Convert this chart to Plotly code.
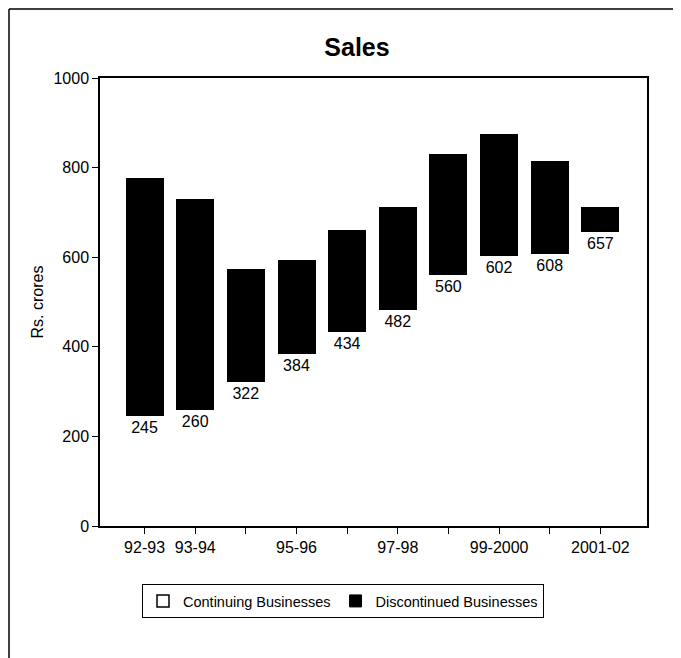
import plotly.graph_objects as go

categories = ["92-93", "93-94", "94-95", "95-96", "96-97", "97-98", "98-99", "99-2000", "2000-01", "2001-02"]
continuing = [245, 260, 322, 384, 434, 482, 560, 602, 608, 657]
discontinued = [532, 469, 252, 210, 227, 231, 270, 272, 207, 56]
tick_labels = ["92-93", "93-94", "", "95-96", "", "97-98", "", "99-2000", "", "2001-02"]
y_ticks = [0, 200, 400, 600, 800, 1000]

FONT = "Liberation Sans Narrow, Arial Narrow, Liberation Sans, Arial, sans-serif"

W, H = 681, 658
OFF = 8  # page body margin
# plot area in page pixels
L, R, T, B = 100 - OFF, 647 - OFF, 78 - OFF, 526 - OFF

fig = go.Figure()
fig.add_trace(go.Bar(
    x=categories, y=continuing, name="Continuing Businesses",
    marker=dict(color="white", line=dict(width=0)),
    text=[str(v) for v in continuing], textposition="inside",
    insidetextanchor="end", textfont=dict(color="black", size=16, family=FONT),
    showlegend=False, hoverinfo="x+y",
))
fig.add_trace(go.Bar(
    x=categories, y=discontinued, name="Discontinued Businesses",
    marker=dict(color="black", line=dict(width=0)),
    showlegend=False,
))
# legend entries
fig.add_trace(go.Bar(x=[None], y=[None], name="Continuing Businesses",
                     marker=dict(color="white", line=dict(color="black", width=1.5))))
fig.add_trace(go.Bar(x=[None], y=[None], name="Discontinued Businesses",
                     marker=dict(color="black", line=dict(color="black", width=1))))

pw, ph = R - L, B - T
def px(x):
    return (x - OFF - L) / pw
def py(y):
    return (B - (y - OFF)) / ph

frame_line = dict(color="black", width=1.5)
fig.update_layout(
    width=W, height=H,
    margin=dict(l=L, r=W - R, t=T, b=H - B, pad=0, autoexpand=False),
    paper_bgcolor="white", plot_bgcolor="white",
    barmode="stack", bargap=0.25,
    font=dict(family=FONT, color="black", size=16),
    title=dict(text="<b>Sales</b>", x=(357 - OFF) / W, xanchor="center",
               y=1 - (47 - OFF) / H, yanchor="middle",
               font=dict(size=25, family=FONT, color="black")),
    xaxis=dict(
        type="category", categoryorder="array", categoryarray=categories,
        tickmode="array", tickvals=categories, ticktext=tick_labels,
        range=[-0.88, 9.92],
        ticks="outside", ticklen=6, tickwidth=1.2, tickcolor="black",
        showline=True, linecolor="black", linewidth=1.5, mirror=True,
        showgrid=False, tickfont=dict(size=16),
    ),
    yaxis=dict(
        range=[0, 1000], tickmode="array", tickvals=y_ticks,
        ticks="outside", ticklen=6, tickwidth=1.2, tickcolor="black",
        showline=True, linecolor="black", linewidth=1.5, mirror=True,
        showgrid=False, zeroline=False, tickfont=dict(size=16),
        title=dict(text="Rs. crores", font=dict(size=16), standoff=6),
    ),
    legend=dict(
        orientation="h", x=px(343), xanchor="center", y=py(584), yanchor="top",
        bordercolor="black", borderwidth=1, font=dict(size=14.5),
        itemclick=False, traceorder="normal",
    ),
    shapes=[
        dict(type="line", xref="paper", yref="paper",
             x0=px(OFF + 1), x1=px(OFF + 1), y0=py(H + OFF), y1=py(OFF + 1),
             line=frame_line, layer="below"),
        dict(type="line", xref="paper", yref="paper",
             x0=px(OFF + 1), x1=px(W + OFF), y0=py(OFF + 1), y1=py(OFF + 1),
             line=frame_line, layer="below"),
    ],
)

fig.write_html("out.html")
